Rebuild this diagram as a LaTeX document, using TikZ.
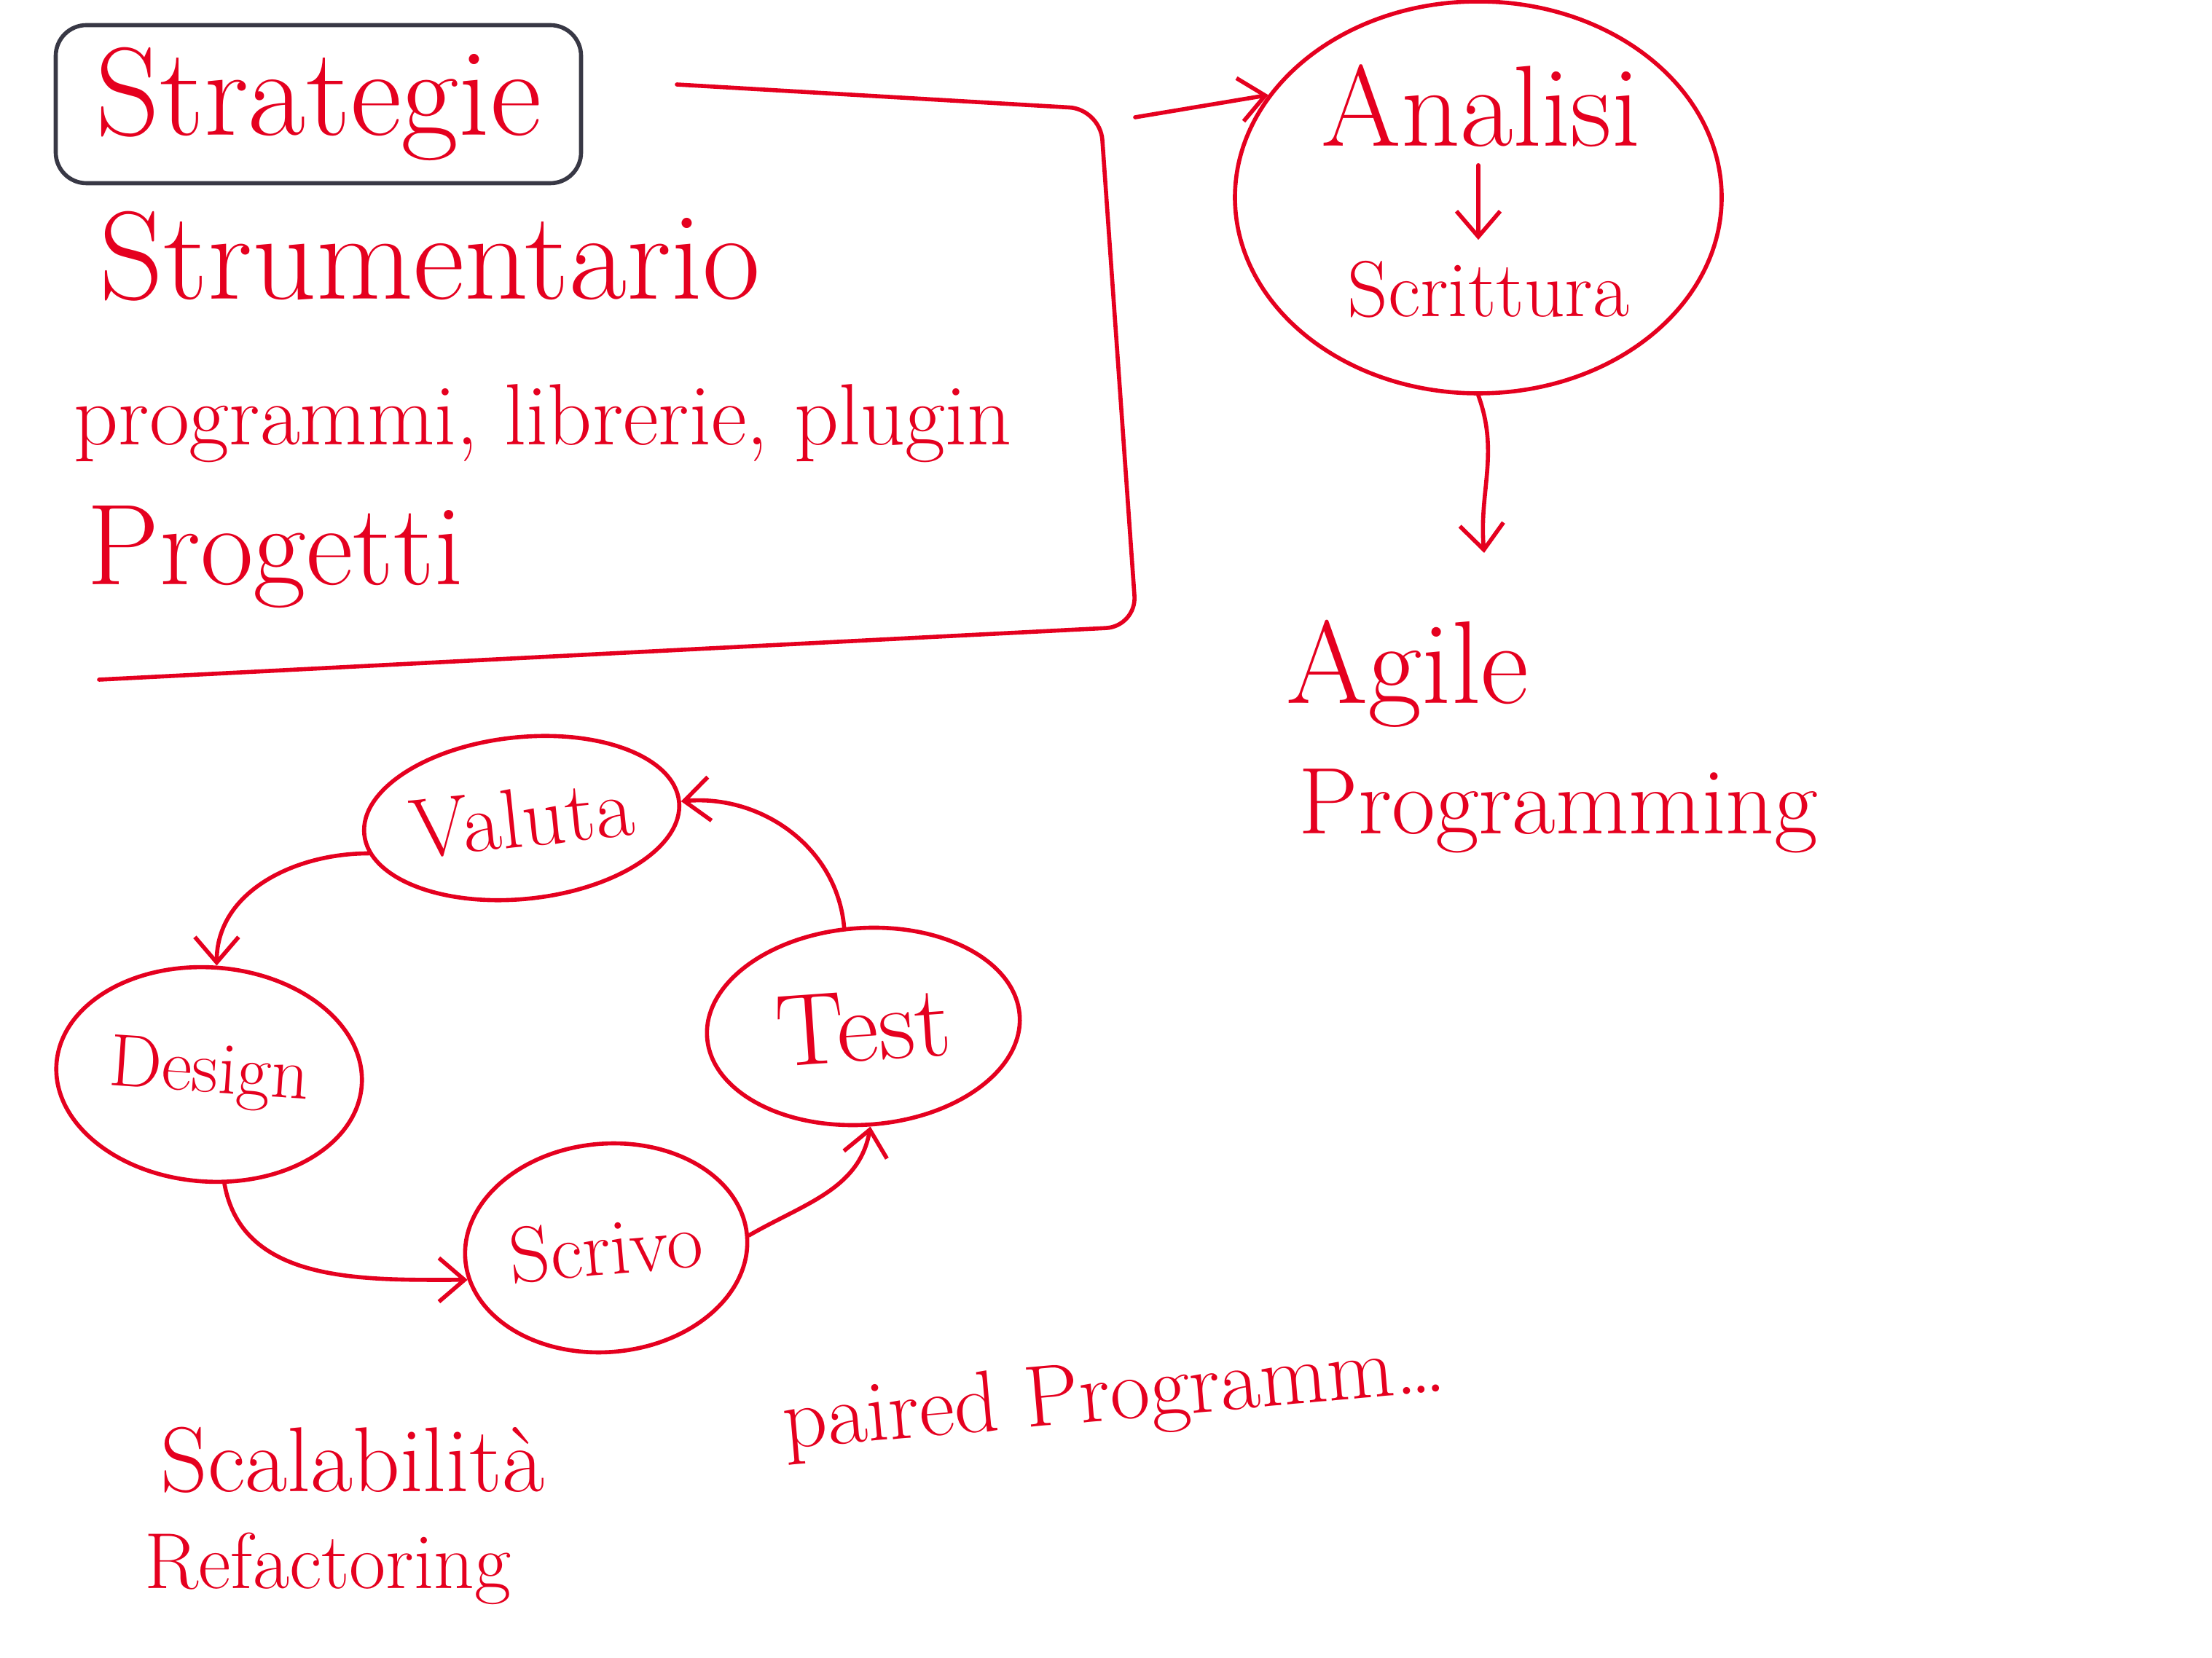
\documentclass[tikz,border=0pt]{standalone}
\usepackage{xcolor}
\usepackage{tikz}
\usetikzlibrary{calc}
\usetikzlibrary{arrows.meta}
\usetikzlibrary{shapes.geometric}
\definecolor{ffqqtt}{rgb}{0.9,0.,0.12}
\definecolor{sqsqtt}{rgb}{0.22,0.22,0.27}
\newcommand{\hw}[1]{\fontsize{#1}{#1}\selectfont}
\tikzset{ink/.style={color=ffqqtt,line width=1.6pt},
  bolla/.style={ink,draw,ellipse,inner sep=0pt},
  scritta/.style={color=ffqqtt,inner sep=2pt}}

\begin{document}
\begin{tikzpicture}[line cap=round,line join=round,>={Straight Barb[length=3.5mm,width=6mm]},x=1.0cm,y=1.0cm]
            \useasboundingbox (0.,0.) rectangle (30.36,-22.76);
            % blocco in alto a sinistra
            \node[draw=sqsqtt,text=ffqqtt,line width=1.6pt,rounded corners=12pt,minimum width=7.21cm,minimum height=2.17cm] (strategie) at (4.37,-1.43) {\hw{49}Strategie};
            \node[scritta] (strumentario) at (5.9,-3.52) {\hw{49}Strumentario};
            \node[scritta] (programmi) at (7.45,-5.81) {\hw{34}programmi, librerie, plugin};
            \node[scritta] (progetti) at (3.78,-7.65) {\hw{45}Progetti};
            \coordinate (brtop) at (9.29,-1.16);
            \coordinate (brcorner) at (15.1,-1.5);
            \coordinate (brdown) at (15.6,-8.6);
            \coordinate (brbot) at (1.36,-9.33);
            \draw[ink,rounded corners=12pt] (brtop) -- (brcorner) -- (brdown) -- (brbot);
            % analisi
            \node[bolla,minimum width=6.68cm,minimum height=5.38cm] (bollaanalisi) at (20.29,-2.71) {};
            \node[scritta] (analisi) at (20.33,-1.45) {\hw{45}Analisi};
            \node[scritta] (scrittura) at (20.43,-3.97) {\hw{31}Scrittura};
            \draw[ink,->] ($(brcorner)+(0.48,-0.11)$) -- (bollaanalisi.154);
            \draw[ink,->,shorten <=5pt,shorten >=6pt] (analisi.south-|bollaanalisi) -- (scrittura.north-|bollaanalisi);
            \node[scritta,anchor=west] (agile) at (17.58,-9.25) {\hw{46}Agile};
            \node[scritta,anchor=west] (programming) at (17.75,-11.13) {\hw{37}Programming};
            \coordinate (agiletop) at (20.37,-7.59);
            \draw[ink,->] (bollaanalisi.south) to[out=-70,in=95] (agiletop);
            % ciclo
            \node[bolla,minimum width=4.18cm,minimum height=2.22cm,rotate=6] (valuta) at (7.16,-11.23) {\hw{33}Valuta};
            \node[bolla,minimum width=4.2cm,minimum height=2.94cm,rotate=-4] (design) at (2.87,-14.75) {\hw{29}Design};
            \node[bolla,minimum width=3.88cm,minimum height=2.86cm,rotate=5] (scrivo) at (8.32,-17.13) {\hw{31}Scrivo};
            \node[bolla,minimum width=4.3cm,minimum height=2.7cm,rotate=4] (test) at (11.85,-14.09) {\hw{40}Test};
            \draw[ink,->] (valuta.187) to[out=180,in=90] (design.north);
            \draw[ink,->] (design.282) to[out=-80,in=180] (scrivo.188);
            \draw[ink,->] (scrivo.east) to[out=30,in=-100] (test.south);
            \draw[ink,->] (test.97) to[out=95,in=5] (valuta.east);
            % note in basso
            \node[scritta] (scalabilita) at (4.84,-20.04) {\hw{36}Scalabilità};
            \node[scritta] (refactoring) at (4.5,-21.53) {\hw{31}Refactoring};
            \node[scritta,rotate=5] (paired) at (15.29,-19.2) {\hw{34}paired Programm\ldots};
\end{tikzpicture}
\end{document}
